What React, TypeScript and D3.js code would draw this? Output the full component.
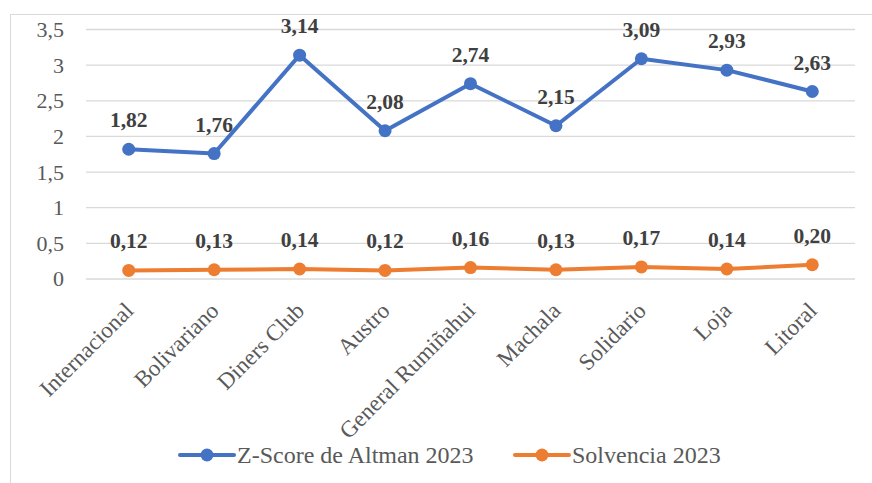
import React from "react";
import * as d3 from "d3";

const categories = ["Internacional", "Bolivariano", "Diners Club", "Austro", "General Rumiñahui", "Machala", "Solidario", "Loja", "Litoral"];
const zscore = [1.82, 1.76, 3.14, 2.08, 2.74, 2.15, 3.09, 2.93, 2.63];
const solvencia = [0.12, 0.13, 0.14, 0.12, 0.16, 0.13, 0.17, 0.14, 0.20];
const yTicks = [0, 0.5, 1, 1.5, 2, 2.5, 3, 3.5];
const seriesNames = ["Z-Score de Altman 2023", "Solvencia 2023"];
const colors = ["#4472C4", "#ED7D31"];

const W = 872, H = 483;
const fmt = (v: number, d: number) => v.toFixed(d).replace(".", ",");
const tf = { fontFamily: "\"Liberation Serif\", Tinos, serif" };

export default function App() {
  const x = d3.scaleBand<string>().domain(categories).range([86, 855]);
  const y = d3.scaleLinear().domain([0, 3.5]).range([279, 29.5]);
  const cxOf = (i: number) => (x(categories[i]) as number) + x.bandwidth() / 2;
  const line = d3.line<number>().x((_, i) => cxOf(i)).y((v) => y(v));
  const series = [zscore, solvencia];
  return (
    <svg width={W} height={H} style={{ position: "absolute", left: 0, top: 0, background: "#fff" }}>
      <rect x={10.5} y={14.5} width={900} height={500} fill="#fff" stroke="#D9D9D9" strokeWidth={1} />
      {yTicks.map((t) => (
        <g key={t}>
          <line x1={86} x2={855} y1={y(t)} y2={y(t)} stroke="#D9D9D9" strokeWidth={1.3} />
          <text x={64} y={y(t)} dy="0.34em" textAnchor="end" fontSize={22} fill="#595959" style={tf}>{fmt(t, t % 1 === 0 ? 0 : 1)}</text>
        </g>
      ))}
      {categories.map((c, i) => (
        <text key={c} transform={`translate(${cxOf(i) - 5},${301}) rotate(-45)`} textAnchor="end" fontSize={23} fill="#595959" dy="0.68em" style={tf}>{c}</text>
      ))}
      {series.map((s, si) => (
        <g key={si}>
          <path d={line(s) as string} fill="none" stroke={colors[si]} strokeWidth={4} strokeLinejoin="round" strokeLinecap="round" />
          {s.map((v, i) => (
            <circle key={i} cx={cxOf(i)} cy={y(v)} r={6.5} fill={colors[si]} />
          ))}
          {s.map((v, i) => (
            <text key={"l" + i} x={cxOf(i)} y={y(v) - 22} textAnchor="middle" fontSize={21.5} fontWeight="bold" fill="#404040" style={tf}>{fmt(v, 2)}</text>
          ))}
        </g>
      ))}
      {seriesNames.map((n, i) => {
        const x0 = i === 0 ? 180 : 515;
        return (
          <g key={n}>
            <line x1={x0} x2={x0 + 54} y1={455} y2={455} stroke={colors[i]} strokeWidth={4} strokeLinecap="round" />
            <circle cx={x0 + 27} cy={455} r={6.5} fill={colors[i]} />
            <text x={x0 + 57} y={463} fontSize={24} fill="#595959" style={tf}>{n}</text>
          </g>
        );
      })}
    </svg>
  );
}
